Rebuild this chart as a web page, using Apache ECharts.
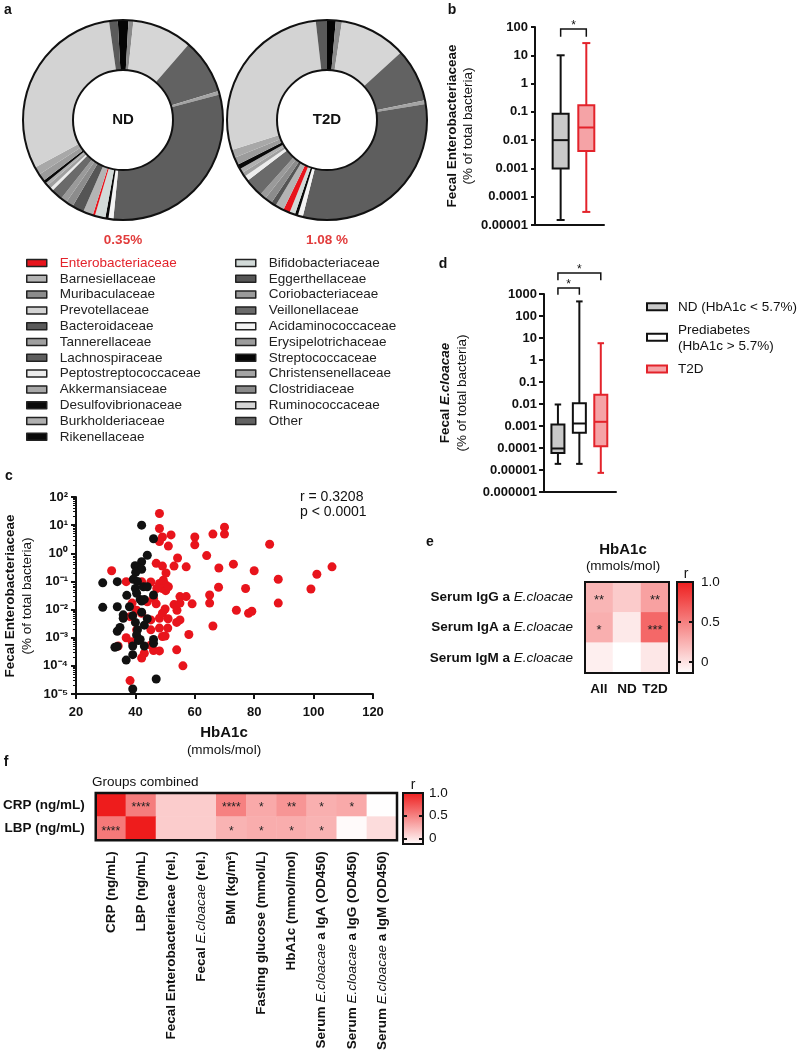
<!DOCTYPE html>
<html>
<head>
<meta charset="utf-8">
<script src="https://cdn.jsdelivr.net/npm/echarts@6/dist/echarts.min.js"></script>
<style>html,body{margin:0;background:#fff}#fig{width:800px;height:1053px}</style>
</head>
<body>
<div id="fig"></div>
<script>
// ---------- data ----------
// panel a: slices in drawing order (clockwise), % of total bacteria
const families = ['Streptococcaceae', 'Clostridiaceae', 'Ruminococcaceae', 'Other', 'Christensenellaceae',
  'Lachnospiraceae', 'Acidaminococcaceae', 'Rikenellaceae', 'Bifidobacteriaceae', 'Enterobacteriaceae',
  'Barnesiellaceae', 'Eggerthellaceae', 'Muribaculaceae', 'Coriobacteriaceae', 'Veillonellaceae',
  'Peptostreptococcaceae', 'Tannerellaceae', 'Burkholderiaceae', 'Desulfovibrionaceae',
  'Erysipelotrichaceae', 'Akkermansiaceae', 'Prevotellaceae', 'Bacteroidaceae'];
const ndShare = [1.7, 0.8, 9.7, 8.9, 0.6, 30.6, 0.8, 0.5, 1.7, 0.35, 1.6, 1.9, 1.2, 1.0, 1.9, 0.5, 0.6, 0.5, 0.5, 1.2, 1.3, 30.6, 1.4];
const t2dShare = [1.4, 1.0, 10.8, 8.6, 0.6, 31.4, 0.8, 0.5, 0.9, 1.08, 1.4, 0.8, 1.2, 1.0, 3.0, 0.8, 0.7, 0.7, 0.8, 1.2, 1.3, 28.0, 1.8];
const legendLeft = ['Enterobacteriaceae', 'Barnesiellaceae', 'Muribaculaceae', 'Prevotellaceae', 'Bacteroidaceae',
  'Tannerellaceae', 'Lachnospiraceae', 'Peptostreptococcaceae', 'Akkermansiaceae', 'Desulfovibrionaceae',
  'Burkholderiaceae', 'Rikenellaceae'];
const legendRight = ['Bifidobacteriaceae', 'Eggerthellaceae', 'Coriobacteriaceae', 'Veillonellaceae',
  'Acidaminococcaceae', 'Erysipelotrichaceae', 'Streptococcaceae', 'Christensenellaceae', 'Clostridiaceae',
  'Ruminococcaceae', 'Other'];
const entLabels = ['0.35%', '1.08 %'];

// panel b: [group, min, q1, median, q3, max]
const groupsB = ['ND', 'T2D'];
const boxB = [[0, 1.5e-5, 0.001, 0.01, 0.085, 10], [1, 2.9e-5, 0.0041, 0.028, 0.17, 27]];
const sigB = [[0, 1, 85, 45]];

// panel d
const groupsD = ['ND', 'Prediabetes', 'T2D'];
const boxD = [[0, 1.9e-5, 6e-5, 9.5e-5, 0.00118, 0.0095],
  [1, 1.9e-5, 0.00049, 0.0013, 0.0107, 460],
  [2, 7.4e-6, 0.00012, 0.00155, 0.026, 5.8]];
const sigD = [[0, 1, 1870, 930], [0, 2, 9100, 4200]];

// panel c: HbA1c vs fecal Enterobacteriaceae
const t2dHbA1c = [48.1, 48.1, 49.1, 48.1, 52, 51.1, 60, 60, 66.1, 70, 70, 85.2, 54.2, 64, 47, 49.1, 53, 57.1, 73, 68.1,
  32, 50.3, 80, 101.1, 106.2, 36.9, 42.1, 45.2, 48.1, 49.4, 50.3, 47.2, 49.1, 50.2, 51.1, 68, 77.1, 88.1, 99.1,
  55, 57.1, 65, 65, 88.1, 38.9, 40.4, 44, 46.1, 47, 50, 53, 54, 55, 59.1, 74, 78.1, 79.2, 38.2, 42.1, 45.2,
  48.1, 49.1, 51, 53.9, 55, 66.1, 40.4, 45.2, 48.1, 50.9, 58, 36.9, 38.9, 49.1, 50, 45.2, 46.1, 48.1, 53.9,
  34.2, 43, 42.1, 56, 38.2];
const t2dEntero = [26, 7.6, 3.8, 2.6, 4.5, 1.8, 3.8, 2.0, 4.8, 8.5, 4.8, 2.1, 0.68, 0.83, 0.44, 0.35, 0.35, 0.33, 0.41, 0.30,
  0.24, 0.20, 0.24, 0.18, 0.33, 0.098, 0.098, 0.095, 0.085, 0.11, 0.074, 0.056, 0.056, 0.047, 0.065, 0.062, 0.056, 0.12, 0.054,
  0.029, 0.029, 0.033, 0.017, 0.017, 0.017, 0.0095, 0.019, 0.025, 0.016, 0.0105, 0.015, 0.0095, 0.017, 0.016, 0.0095, 0.0074, 0.0087, 0.0056, 0.0074, 0.0043,
  0.0049, 0.0074, 0.0047, 0.0035, 0.0043, 0.0026, 0.0019, 0.0019, 0.0022, 0.0022, 0.0013, 0.001, 0.00072, 0.0011, 0.00115, 0.00055, 0.00035, 0.00034, 0.00037,
  0.00051, 0.00028, 0.00019, 0.0001, 0.00003];
const ndHbA1c = [42.1, 46.1, 44, 42.1, 39.9, 41, 42.1, 40.1, 39.3, 40.7, 29, 33.9, 42.7, 40, 40.4, 37.1, 44, 46.1, 41.6,
  42.1, 43, 29, 33.9, 38, 35.9, 35.9, 39.1, 42.1, 44, 40, 43, 34.8, 33.9, 40.7, 40.4, 41.6, 41, 39.1, 43, 46.1,
  46.1, 33.1, 33.9, 39.1, 36.9, 47, 39.1];
const ndEntero = [10, 3.3, 0.85, 0.5, 0.36, 0.30, 0.27, 0.21, 0.12, 0.1, 0.089, 0.098, 0.065, 0.056, 0.038, 0.032, 0.065, 0.033, 0.023,
  0.02, 0.023, 0.012, 0.0126, 0.0126, 0.0065, 0.0049, 0.006, 0.0081, 0.0047, 0.0035, 0.0028, 0.0023, 0.0017, 0.0019, 0.00126, 0.00087, 0.00079, 0.00051, 0.00051, 0.00087,
  0.00063, 0.00046, 0.00049, 0.00025, 0.00016, 0.000034, 0.000015];
const corrText = ['r = 0.3208', 'p < 0.0001'];

// panel e
const eCols = ['All', 'ND', 'T2D'];
const eRows = ['Serum IgG a E.cloacae', 'Serum IgA a E.cloacae', 'Serum IgM a E.cloacae'];
const eR = [[0.23, 0.12, 0.33], [0.26, -0.03, 0.62], [-0.06, -0.14, -0.02]];
const eStars = [['**', '', '**'], ['*', '', '***'], ['', '', '']];

// panel f
const fCols = ['CRP (ng/mL)', 'LBP (ng/mL)', 'Fecal Enterobacteriacae (rel.)', 'Fecal E.cloacae (rel.)', 'BMI (kg/m²)',
  'Fasting glucose (mmol/L)', 'HbA1c (mmol/mol)', 'Serum E.cloacae a IgA (OD450)', 'Serum E.cloacae a IgG (OD450)',
  'Serum E.cloacae a IgM (OD450)'];
const fRows = ['CRP (ng/mL)', 'LBP (ng/mL)'];
const fR = [[1.0, 0.52, 0.13, 0.13, 0.5, 0.3, 0.4, 0.27, 0.3, -0.12],
  [0.54, 1.0, 0.13, 0.13, 0.25, 0.28, 0.28, 0.25, -0.1, 0.05]];
const fStars = [['', '****', '', '', '****', '*', '**', '*', '*', ''],
  ['****', '', '', '', '*', '*', '*', '*', '', '']];
const rTicks = [0, 0.5, 1];

// ---------- styles ----------
const FONT = '"Liberation Sans", Arial, Helvetica, sans-serif';
const INK = '#111';
const RED = '#e3232b';
const famColor = {
  Enterobacteriaceae: '#e8141c', Barnesiellaceae: '#b4b4b4', Muribaculaceae: '#8c8c8c', Prevotellaceae: '#d3d3d3',
  Bacteroidaceae: '#5a5a5a', Tannerellaceae: '#a0a0a0', Lachnospiraceae: '#5e5e5e', Peptostreptococcaceae: '#ececec',
  Akkermansiaceae: '#a8a8a8', Desulfovibrionaceae: '#0a0a0a', Burkholderiaceae: '#b0b0b0', Rikenellaceae: '#0a0a0a',
  Bifidobacteriaceae: '#d2dad8', Eggerthellaceae: '#555555', Coriobacteriaceae: '#9a9a9a', Veillonellaceae: '#6a6a6a',
  Acidaminococcaceae: '#f4f4f4', Erysipelotrichaceae: '#9c9c9c', Streptococcaceae: '#050505',
  Christensenellaceae: '#a4a4a4', Clostridiaceae: '#8a8a8a', Ruminococcaceae: '#d6d6d6', Other: '#626262'
};
const boxFill = { ND: '#c9c9c9', Prediabetes: '#ffffff', T2D: '#f5a3a6' };
const boxStroke = { ND: INK, Prediabetes: INK, T2D: RED };
const heatColors = ['#ffffff', '#ee1c1c'];
const barFill = { type: 'linear', x: 0, y: 0, x2: 0, y2: 1,
  colorStops: [{ offset: 0, color: '#ee1c1c' }, { offset: 1, color: '#ffffff' }] };

function pow10Label(v) {
  const e = Math.round(Math.log10(v));
  return e >= 0 ? String(Math.pow(10, e)) : '0.' + '0'.repeat(-e - 1) + '1';
}
const SUP = { '-': '⁻', '0': '⁰', '1': '¹', '2': '²', '3': '³', '4': '⁴', '5': '⁵', '6': '⁶' };
function supLabel(v) {
  const e = String(Math.round(Math.log10(v)));
  return '10' + e.split('').map(c => SUP[c]).join('');
}
function cloacae(s) {
  return s.split('E.cloacae').map(p => p ? '{b|' + p + '}' : '').join('{i|E.cloacae}');
}
const richBI = {
  b: { fontWeight: 'bold', fontSize: 13.5, color: INK, fontFamily: FONT },
  i: { fontStyle: 'italic', fontSize: 13.5, color: INK, fontFamily: FONT }
};

function boxRenderer(boxW, groups) {
  return function (params, api) {
    const i = api.value(0);
    const g = groups[i];
    const top = api.coord([i, api.value(5)]);
    const q3 = api.coord([i, api.value(4)]);
    const med = api.coord([i, api.value(3)]);
    const q1 = api.coord([i, api.value(2)]);
    const bot = api.coord([i, api.value(1)]);
    const cx = top[0], hw = boxW / 2, cw = boxW / 4;
    const st = { stroke: boxStroke[g], lineWidth: 2, fill: null };
    return {
      type: 'group', children: [
        { type: 'line', shape: { x1: cx, y1: top[1], x2: cx, y2: q3[1] }, style: st },
        { type: 'line', shape: { x1: cx, y1: q1[1], x2: cx, y2: bot[1] }, style: st },
        { type: 'line', shape: { x1: cx - cw, y1: top[1], x2: cx + cw, y2: top[1] }, style: st },
        { type: 'line', shape: { x1: cx - cw, y1: bot[1], x2: cx + cw, y2: bot[1] }, style: st },
        { type: 'rect', shape: { x: cx - hw, y: q3[1], width: boxW, height: q1[1] - q3[1] },
          style: { fill: boxFill[g], stroke: boxStroke[g], lineWidth: 2 } },
        { type: 'line', shape: { x1: cx - hw, y1: med[1], x2: cx + hw, y2: med[1] }, style: st }
      ]
    };
  };
}
function bracketRenderer(params, api) {
  const a = api.coord([api.value(0), api.value(2)]);
  const b = api.coord([api.value(1), api.value(2)]);
  const e = api.coord([api.value(0), api.value(3)]);
  return {
    type: 'group', children: [
      { type: 'polyline', shape: { points: [[a[0], e[1]], [a[0], a[1]], [b[0], b[1]], [b[0], e[1]]] },
        style: { stroke: INK, lineWidth: 1.5, fill: null } },
      { type: 'text', x: (a[0] + b[0]) / 2, y: a[1] + 3,
        style: { text: '*', fontSize: 12, fontFamily: FONT, fill: INK, align: 'center', verticalAlign: 'bottom' } }
    ]
  };
}

const axisInk = { lineStyle: { color: INK, width: 2 } };
const tickLbl = { color: INK, fontWeight: 'bold', fontSize: 13, fontFamily: FONT };

function txt(x, y, text, o) {
  return Object.assign({ type: 'text', x: x, y: y, silent: true,
    style: Object.assign({ text: text, fontFamily: FONT, fontSize: 13.5, fill: INK, align: 'center', verticalAlign: 'middle' }, o || {}) });
}
function vtxt(x, y, text, o) {
  const t = txt(x, y, text, o);
  t.rotation = Math.PI / 2;
  return t;
}
const bold = { fontWeight: 'bold' };

let chart = echarts.init(document.getElementById('fig'));

const pieBase = {
  type: 'pie', radius: [50, 100], silent: true, clockwise: true,
  label: { show: false }, labelLine: { show: false }, emphasis: { disabled: true }
};
function donut(center, start, share) {
  return Object.assign({}, pieBase, {
    center: center, startAngle: start,
    data: families.map((f, i) => ({ name: f, value: share[i], itemStyle: { color: famColor[f] } }))
  });
}
function ring(center) {
  return Object.assign({}, pieBase, {
    center: center,
    data: [{ name: '', value: 1, itemStyle: { color: 'rgba(0,0,0,0)', borderColor: INK, borderWidth: 2 } }]
  });
}

const legendBase = {
  orient: 'vertical', top: 256, padding: 0, itemGap: 1.8, itemWidth: 20, itemHeight: 7, icon: 'rect',
  selectedMode: false, itemStyle: { borderColor: '#222', borderWidth: 1.5 },
  textStyle: { fontSize: 13.5, color: '#222', fontFamily: FONT, lineHeight: 14, padding: [0, 0, 0, 8] }
};
const legendItem = n => n === 'Enterobacteriaceae' ? { name: n, textStyle: { color: RED } } : { name: n };

const option = {
  animation: false,
  backgroundColor: '#fff',
  textStyle: { fontFamily: FONT },
  legend: [
    Object.assign({}, legendBase, { left: 26, data: legendLeft.map(legendItem) }),
    Object.assign({}, legendBase, { left: 235, data: legendRight.map(legendItem) })
  ],
  grid: [
    { left: 535, top: 27, width: 69, height: 198 },
    { left: 544, top: 294, width: 72, height: 198 },
    { left: 76, top: 497, width: 297, height: 197 },
    { left: 585, top: 582, width: 84, height: 91, show: true, z: 5, backgroundColor: 'rgba(0,0,0,0)', borderColor: INK, borderWidth: 2 },
    { left: 677, top: 582, width: 16, height: 91, show: true, backgroundColor: barFill, borderColor: INK, borderWidth: 2 },
    { left: 92, top: 793, width: 305, height: 51, show: true, z: 5, backgroundColor: 'rgba(0,0,0,0)', borderColor: INK, borderWidth: 2.5 },
    { left: 403, top: 793, width: 20, height: 51, show: true, backgroundColor: barFill, borderColor: INK, borderWidth: 2 }
  ],
  xAxis: [
    { gridIndex: 0, type: 'value', min: -1, max: 1.69, axisLine: Object.assign({ onZero: false }, axisInk),
      axisTick: { show: false }, axisLabel: { show: false }, splitLine: { show: false } },
    { gridIndex: 1, type: 'value', min: -0.65, max: 2.71, axisLine: Object.assign({ onZero: false }, axisInk),
      axisTick: { show: false }, axisLabel: { show: false }, splitLine: { show: false } },
    { gridIndex: 2, type: 'value', min: 20, max: 120, interval: 20, axisLine: Object.assign({ onZero: false }, axisInk),
      axisTick: { length: 5, lineStyle: { color: INK, width: 2 } }, axisLabel: Object.assign({ margin: 12 }, tickLbl),
      splitLine: { show: false } },
    { gridIndex: 3, type: 'category', data: eCols, axisLine: { show: false },
      axisTick: { alignWithLabel: true, length: 7, lineStyle: { color: INK, width: 2 } },
      axisLabel: { interval: 0, margin: 9, color: INK, fontWeight: 'bold', fontSize: 13.5, fontFamily: FONT } },
    { gridIndex: 4, type: 'value', show: false, min: 0, max: 1 },
    { gridIndex: 5, type: 'category', data: fCols, axisLine: { show: false },
      axisTick: { alignWithLabel: true, length: 8, lineStyle: { color: INK, width: 2 } },
      axisLabel: { rotate: 90, margin: 11, interval: 0, formatter: cloacae, rich: richBI } },
    { gridIndex: 6, type: 'value', show: false, min: 0, max: 1 }
  ],
  yAxis: [
    { gridIndex: 0, type: 'log', logBase: 10, min: 1e-5, max: 100, splitNumber: 10,
      axisLine: Object.assign({ onZero: false }, axisInk), splitLine: { show: false },
      axisTick: { length: 4, lineStyle: { color: INK, width: 2 } },
      axisLabel: Object.assign({ margin: 7, formatter: pow10Label }, tickLbl) },
    { gridIndex: 1, type: 'log', logBase: 10, min: 1e-6, max: 1000, splitNumber: 10,
      axisLine: Object.assign({ onZero: false }, axisInk), splitLine: { show: false },
      axisTick: { length: 5, lineStyle: { color: INK, width: 2 } },
      axisLabel: Object.assign({ margin: 7, formatter: pow10Label }, tickLbl) },
    { gridIndex: 2, type: 'log', logBase: 10, min: 1e-5, max: 100, splitNumber: 10,
      axisLine: Object.assign({ onZero: false }, axisInk), splitLine: { show: false },
      axisTick: { length: 5, lineStyle: { color: INK, width: 2 } },
      minorTick: { show: true, splitNumber: 9, length: 3, lineStyle: { color: INK, width: 1 } },
      axisLabel: Object.assign({ margin: 8, formatter: supLabel }, tickLbl) },
    { gridIndex: 3, type: 'category', data: eRows, inverse: true, axisLine: { show: false },
      axisTick: { alignWithLabel: true, length: 10, lineStyle: { color: INK, width: 2 } },
      axisLabel: { interval: 0, margin: 12, formatter: cloacae, rich: richBI } },
    { gridIndex: 4, type: 'value', position: 'left', min: -0.14, max: 1, axisLine: { show: false }, splitLine: { show: false },
      axisTick: { show: true, inside: true, length: 4, customValues: [0, 0.5], lineStyle: { color: INK, width: 2 } },
      axisLabel: { show: false } },
    { gridIndex: 4, type: 'value', position: 'right', min: -0.14, max: 1, axisLine: { show: false }, splitLine: { show: false },
      axisTick: { show: true, inside: true, length: 4, customValues: [0, 0.5], lineStyle: { color: INK, width: 2 } },
      axisLabel: { customValues: rTicks, margin: 8, color: INK, fontSize: 13.5, fontFamily: FONT,
        formatter: v => v === 1 ? '1.0' : String(v) } },
    { gridIndex: 5, type: 'category', data: fRows, inverse: true, axisLine: { show: false },
      axisTick: { alignWithLabel: true, length: 10, lineStyle: { color: INK, width: 2 } },
      axisLabel: { interval: 0, margin: 11, color: INK, fontWeight: 'bold', fontSize: 13.5, fontFamily: FONT } },
    { gridIndex: 6, type: 'value', position: 'left', min: -0.125, max: 1, axisLine: { show: false }, splitLine: { show: false },
      axisTick: { show: true, inside: true, length: 4, customValues: [0, 0.5], lineStyle: { color: INK, width: 2 } },
      axisLabel: { show: false } },
    { gridIndex: 6, type: 'value', position: 'right', min: -0.125, max: 1, axisLine: { show: false }, splitLine: { show: false },
      axisTick: { show: true, inside: true, length: 4, customValues: [0, 0.5], lineStyle: { color: INK, width: 2 } },
      axisLabel: { customValues: rTicks, margin: 6, color: INK, fontSize: 13.5, fontFamily: FONT,
        formatter: v => v === 1 ? '1.0' : String(v) } }
  ],
  visualMap: [
    { type: 'continuous', show: false, seriesIndex: 10, dimension: 2, min: -0.14, max: 1, inRange: { color: heatColors } },
    { type: 'continuous', show: false, seriesIndex: 11, dimension: 2, min: -0.125, max: 1, inRange: { color: heatColors } }
  ],
  series: [
    donut([123, 120], 93, ndShare),
    ring([123, 120]),
    donut([327, 120], 90, t2dShare),
    ring([327, 120]),
    { type: 'custom', xAxisIndex: 0, yAxisIndex: 0, clip: false, silent: true,
      encode: { x: 0, y: [1, 2, 3, 4, 5] }, renderItem: boxRenderer(16, groupsB), data: boxB },
    { type: 'custom', xAxisIndex: 0, yAxisIndex: 0, clip: false, silent: true,
      encode: { x: [0, 1], y: [2, 3] }, renderItem: bracketRenderer, data: sigB },
    { type: 'custom', xAxisIndex: 1, yAxisIndex: 1, clip: false, silent: true,
      encode: { x: 0, y: [1, 2, 3, 4, 5] }, renderItem: boxRenderer(13, groupsD), data: boxD },
    { type: 'custom', xAxisIndex: 1, yAxisIndex: 1, clip: false, silent: true,
      encode: { x: [0, 1], y: [2, 3] }, renderItem: bracketRenderer, data: sigD },
    { type: 'scatter', name: 'T2D', xAxisIndex: 2, yAxisIndex: 2, symbolSize: 9, silent: true,
      itemStyle: { color: '#e8141c', opacity: 1 }, data: t2dHbA1c.map((x, i) => [x, t2dEntero[i]]) },
    { type: 'scatter', name: 'ND', xAxisIndex: 2, yAxisIndex: 2, symbolSize: 9, silent: true,
      itemStyle: { color: INK, opacity: 1 }, data: ndHbA1c.map((x, i) => [x, ndEntero[i]]) },
    { type: 'heatmap', xAxisIndex: 3, yAxisIndex: 3, silent: true,
      data: eR.flatMap((row, y) => row.map((v, x) => [x, y, v])),
      label: { show: true, formatter: p => eStars[p.data[1]][p.data[0]], color: '#222', fontSize: 13,
        fontFamily: FONT, offset: [0, 3] } },
    { type: 'heatmap', xAxisIndex: 5, yAxisIndex: 6, silent: true,
      data: fR.flatMap((row, y) => row.map((v, x) => [x, y, v])),
      label: { show: true, formatter: p => fStars[p.data[1]][p.data[0]], color: '#222', fontSize: 12,
        fontFamily: FONT, offset: [0, 3] } }
  ],
  graphic: { elements: [
    // panel letters
    txt(8, 10, 'a', { fontWeight: 'bold', fontSize: 14 }),
    txt(452, 10, 'b', { fontWeight: 'bold', fontSize: 14 }),
    txt(9, 476, 'c', { fontWeight: 'bold', fontSize: 14 }),
    txt(443, 264, 'd', { fontWeight: 'bold', fontSize: 14 }),
    txt(430, 542, 'e', { fontWeight: 'bold', fontSize: 14 }),
    txt(6, 762, 'f', { fontWeight: 'bold', fontSize: 14 }),
    // panel a
    txt(123, 120, 'ND', { fontWeight: 'bold', fontSize: 15 }),
    txt(327, 120, 'T2D', { fontWeight: 'bold', fontSize: 15 }),
    txt(123, 240, entLabels[0], { fontWeight: 'bold', fill: '#e23c3c' }),
    txt(327, 240, entLabels[1], { fontWeight: 'bold', fill: '#e23c3c' }),
    // panel b
    vtxt(452, 126, 'Fecal Enterobacteriaceae', bold),
    vtxt(468, 126, '(% of total bacteria)'),
    // panel d
    vtxt(445, 393, '{b|Fecal }{bi|E.cloacae}', { rich: {
      b: { fontWeight: 'bold', fontSize: 13.5, fontFamily: FONT, fill: INK },
      bi: { fontWeight: 'bold', fontStyle: 'italic', fontSize: 13.5, fontFamily: FONT, fill: INK } } }),
    vtxt(462, 393, '(% of total bacteria)'),
    { type: 'rect', shape: { x: 647, y: 303.2, width: 20, height: 7 }, style: { fill: boxFill.ND, stroke: INK, lineWidth: 2 } },
    { type: 'rect', shape: { x: 647, y: 333.8, width: 20, height: 7 }, style: { fill: boxFill.Prediabetes, stroke: INK, lineWidth: 2 } },
    { type: 'rect', shape: { x: 647, y: 365.5, width: 20, height: 7 }, style: { fill: boxFill.T2D, stroke: RED, lineWidth: 2 } },
    txt(678, 307, 'ND (HbA1c < 5.7%)', { align: 'left' }),
    txt(678, 330, 'Prediabetes', { align: 'left' }),
    txt(678, 346, '(HbA1c > 5.7%)', { align: 'left' }),
    txt(678, 369, 'T2D', { align: 'left' }),
    // panel c
    vtxt(10, 596, 'Fecal Enterobacteriaceae', bold),
    vtxt(27, 596, '(% of total bacteria)'),
    txt(224, 733, 'HbA1c', { fontWeight: 'bold', fontSize: 15 }),
    txt(224, 750, '(mmols/mol)'),
    txt(300, 497, corrText[0], { align: 'left', fontSize: 14 }),
    txt(300, 512, corrText[1], { align: 'left', fontSize: 14 }),
    // panel e
    txt(623, 550, 'HbA1c', { fontWeight: 'bold', fontSize: 15 }),
    txt(623, 566, '(mmols/mol)'),
    txt(686, 574, 'r', { fontSize: 14 }),
    // panel f
    txt(92, 782, 'Groups combined', { align: 'left' }),
    txt(413, 785, 'r', { fontSize: 14 })
  ] }
};

chart.setOption(option);
</script>
</body>
</html>
